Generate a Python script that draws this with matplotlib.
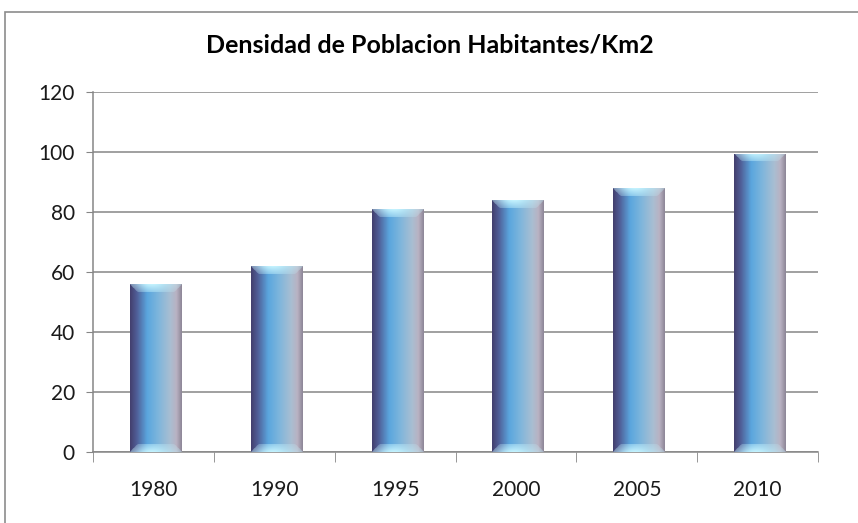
import numpy as np
import matplotlib
matplotlib.use("Agg")
import matplotlib.pyplot as plt
from matplotlib.colors import LinearSegmentedColormap
from matplotlib.patches import Rectangle

# data
years = ["1980", "1990", "1995", "2000", "2005", "2010"]
densidad = [56, 62, 81, 84, 88, 99.5]
title = "Densidad de Poblacion Habitantes/Km2"

W, H = 858, 523
fig = plt.figure(figsize=(W / 100, H / 100), dpi=100)
ax = fig.add_axes([93 / W, 1 - 452 / H, 725 / W, 360 / H])

# outer chart frame
fig.patches.append(Rectangle((5 / W, -0.05), 1.0, 1 - 12 / H + 0.05,
                             transform=fig.transFigure, fill=False,
                             edgecolor="#8c8c8c", lw=1.2))

x = np.arange(len(years)) + 0.02
bars = ax.bar(x, densidad, width=0.43, color="none", zorder=3)

# horizontal gradient for the bars, lighter bevel at top and bottom
cmap = LinearSegmentedColormap.from_list("barra", [
    (0.00, "#433f6e"), (0.12, "#4f5c95"), (0.33, "#5aa6de"),
    (0.55, "#7fb6dc"), (0.78, "#a9bed2"), (0.90, "#b9b2c2"),
    (1.00, "#8e8798")])
cols = cmap(np.linspace(0, 1, 120))[:, :3]
glow = np.array([0.78, 0.96, 1.0])
centre = np.exp(-((np.linspace(0, 1, 120) - 0.42) / 0.3) ** 2)

for b in bars:
    bb = b.get_bbox()
    n = int(b.get_height() * 3.0)
    img = np.tile(cols, (n, 1, 1))
    bev = 8
    for i in range(bev):
        lo, hi = int(120 * i / 52) + 1, 120 - int(120 * i / 52) - 1
        a = (0.35 + 0.6 * centre[lo:hi]) * (1 - 0.6 * i / bev)
        a = a[:, None]
        img[i, lo:hi] = img[i, lo:hi] * (1 - a) + glow * a
        img[n - 1 - i, lo:hi] = img[n - 1 - i, lo:hi] * (1 - a) + glow * a
    im = ax.imshow(img, extent=[bb.x0, bb.x1, bb.y0, bb.y1], aspect="auto",
                   zorder=3, interpolation="bilinear")
    im.set_clip_path(b)

ax.set_xlim(-0.5, len(years) - 0.5)
ax.set_ylim(0, 120)
ax.set_yticks(np.arange(0, 121, 20))
ax.set_xticks(np.arange(len(years)))
ax.set_xticklabels(years)
ax.set_xticks(np.arange(-0.5, len(years), 1), minor=True)
ax.tick_params(axis="x", which="major", length=0, pad=20, labelsize=15)
ax.tick_params(axis="x", which="minor", length=7, color="#868686")
ax.tick_params(axis="y", length=5, color="#868686", labelsize=15, pad=8)
for lab in ax.get_xticklabels() + ax.get_yticklabels():
    lab.set_family(["Lato", "DejaVu Sans"])
    lab.set_color("#1a1a1a")
ax.grid(axis="y", color="#868686", lw=1.1, zorder=1)
for s in ["top", "right"]:
    ax.spines[s].set_visible(False)
for s in ["left", "bottom"]:
    ax.spines[s].set_color("#868686")
    ax.spines[s].set_linewidth(1.1)

fig.text(430 / W, 1 - 45 / H, title, ha="center", va="center",
         fontsize=18, fontweight="bold", family=["Lato", "DejaVu Sans"])

fig.savefig("out.png", dpi=100)
